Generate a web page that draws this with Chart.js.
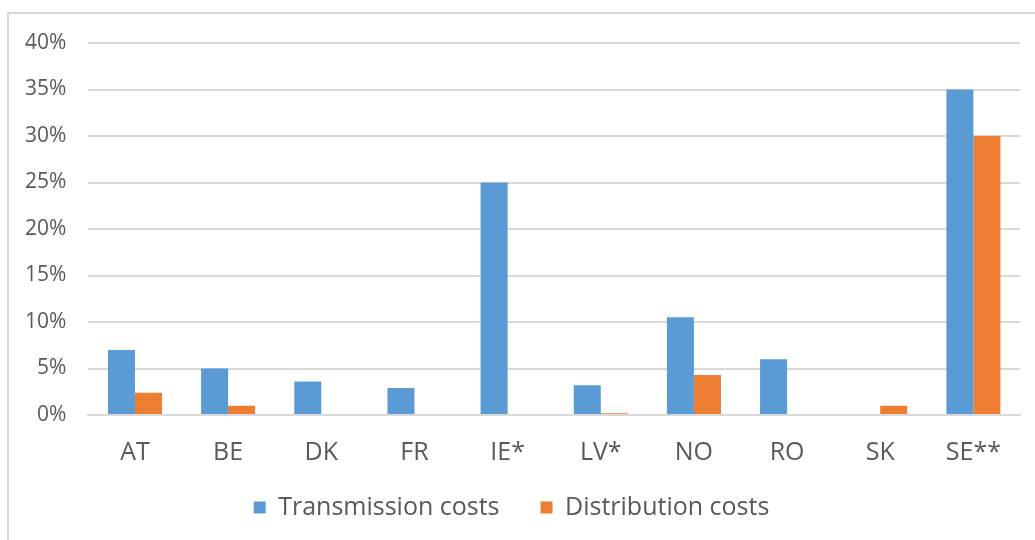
<!DOCTYPE html>
<html>
<head>
<meta charset="utf-8">
<script src="https://cdn.jsdelivr.net/npm/chart.js@4"></script>
<style>
html,body{margin:0;padding:0;background:#fff;}
#frame{position:absolute;left:7px;top:12px;right:0;height:528px;border-left:2px solid #d9d9d9;border-top:2px solid #d9d9d9;box-sizing:border-box;}
#wrap{position:absolute;left:0;top:0;width:1035px;height:540px;}
</style>
</head>
<body>
<div id="frame"></div>
<div id="wrap"><canvas id="c" width="1035" height="540"></canvas></div>
<script>
const categories = ['AT','BE','DK','FR','IE*','LV*','NO','RO','SK','SE**'];
const transmission = [7, 5, 3.6, 2.9, 25, 3.2, 10.5, 6.0, 0, 35];
const distribution = [2.4, 1.0, 0, 0, 0, 0.2, 4.3, 0, 1.0, 30];
const seriesNames = ['Transmission costs','Distribution costs'];
const yMax = 40, yStep = 5;

const txt = '#595959';
const FONT = 'Open Sans';
const X_SHRINK = 37;

// After the x axis is shrunk to pull the legend up, re-extend its box so labels are not clipped
const xLabelRoom = {
  id: 'xLabelRoom',
  afterLayout(chart) {
    const x = chart.scales.x;
    if (x) { x.bottom += X_SHRINK; }
  }
};

new Chart(document.getElementById('c'), {
  type: 'bar',
  data: {
    labels: categories,
    datasets: [
      {label: seriesNames[0], data: transmission, backgroundColor: '#5B9BD5', borderWidth: 0},
      {label: seriesNames[1], data: distribution, backgroundColor: '#ED7D31', borderWidth: 0}
    ]
  },
  plugins: [xLabelRoom],
  options: {
    responsive: false,
    animation: false,
    devicePixelRatio: 1,
    layout: {padding: {left: 3, right: 15, top: 43, bottom: 10}},
    datasets: {bar: {categoryPercentage: 0.58, barPercentage: 1.0}},
    plugins: {
      tooltip: {enabled: false},
      legend: {
        position: 'bottom',
        labels: {
          color: txt,
          font: {family: FONT, size: 25},
          boxWidth: 12, boxHeight: 12,
          padding: 41
        }
      }
    },
    scales: {
      x: {
        grid: {display: false, drawTicks: false},
        border: {display: true, color: '#d9d9d9', width: 2},
        ticks: {color: txt, font: {family: FONT, size: 25}, padding: 23},
        afterFit: (scale) => { scale.height -= X_SHRINK; }
      },
      y: {
        min: 0, max: yMax,
        grid: {color: '#d9d9d9', lineWidth: 2, drawTicks: false},
        border: {display: false},
        ticks: {
          stepSize: yStep,
          color: txt,
          font: {family: FONT, size: 21},
          padding: 22,
          callback: v => v + '%'
        }
      }
    }
  }
});
</script>
</body>
</html>
